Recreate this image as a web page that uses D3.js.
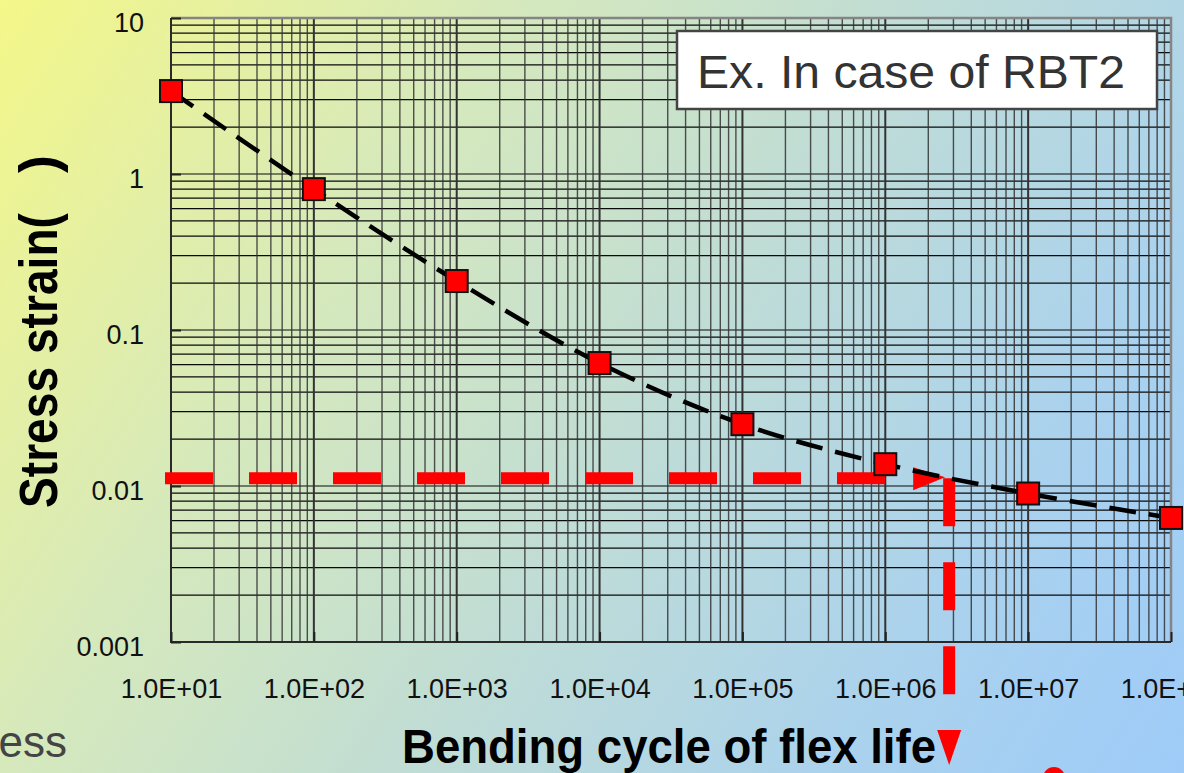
<!DOCTYPE html>
<html>
<head>
<meta charset="utf-8">
<script src="https://cdn.jsdelivr.net/npm/d3@7"></script>
<style>
  html, body { margin: 0; padding: 0; overflow: hidden; }
  svg { display: block; font-family: "Liberation Sans", Arial, sans-serif; }
</style>
</head>
<body>
<div id="chart"></div>
<script>
// bending cycles (x) vs stress strain (y)
var cycles = [1e1, 1e2, 1e3, 1e4, 1e5, 1e6, 1e7, 1e8];
var strain = [3.4, 0.80, 0.206, 0.0614, 0.0249, 0.0138, 0.00895, 0.00624];

var xTickLabels = ["1.0E+01", "1.0E+02", "1.0E+03", "1.0E+04", "1.0E+05", "1.0E+06", "1.0E+07", "1.0E+08"];
var yTickValues = [10, 1, 0.1, 0.01, 0.001];
var yTickLabels = ["10", "1", "0.1", "0.01", "0.001"];

// example reading: strain level -> life
var refStrain = 0.0112,
    refCycles = 2.8e6;

var legendText = "Ex. In case of RBT2";

var width = 1184,
    height = 773;

var margin = { top: 18, right: 13, bottom: 131, left: 171 };

var svg = d3.select("#chart").append("svg")
  .attr("width", width)
  .attr("height", height);

var defs = svg.append("defs");
var grad = defs.append("linearGradient")
  .attr("id", "bg")
  .attr("gradientUnits", "userSpaceOnUse")
  .attr("x1", 0).attr("y1", 0)
  .attr("x2", width).attr("y2", height);
grad.append("stop").attr("offset", 0).attr("stop-color", "#f4f788");
grad.append("stop").attr("offset", 0.3).attr("stop-color", "#d6e9bc");
grad.append("stop").attr("offset", 0.55).attr("stop-color", "#bfdcd6");
grad.append("stop").attr("offset", 0.8).attr("stop-color", "#aad2ee");
grad.append("stop").attr("offset", 1).attr("stop-color", "#9ecbf8");

svg.append("rect")
  .attr("width", width)
  .attr("height", height)
  .attr("fill", "url(#bg)");

var x = d3.scaleLog()
  .domain([1e1, 1e8])
  .range([margin.left, width - margin.right]);

var y = d3.scaleLog()
  .domain([0.001, 10])
  .range([height - margin.bottom, margin.top]);

var x0 = x.range()[0], x1 = x.range()[1],
    y0 = y.range()[0], y1 = y.range()[1];

// grid
var xMinor = [], yMinor = [];
for (var p = 1; p < 8; ++p) {
  for (var k = 2; k < 10; ++k) xMinor.push(k * Math.pow(10, p));
}
for (var q = -3; q < 1; ++q) {
  for (var k = 2; k < 10; ++k) yMinor.push(k * Math.pow(10, q));
}

var grid = svg.append("g").attr("class", "grid");

grid.selectAll(".hline")
  .data(yMinor.concat(yTickValues))
  .enter().append("line")
  .attr("x1", x0).attr("x2", x1)
  .attr("y1", function(d) { return y(d); })
  .attr("y2", function(d) { return y(d); })
  .attr("stroke", "#0a0a0a")
  .attr("stroke-width", 1.2);

grid.selectAll(".vline")
  .data(xMinor)
  .enter().append("line")
  .attr("x1", function(d) { return x(d); })
  .attr("x2", function(d) { return x(d); })
  .attr("y1", y1).attr("y2", y0)
  .attr("stroke", "#333")
  .attr("stroke-opacity", 0.85)
  .attr("stroke-width", 1.4);

grid.selectAll(".vmajor")
  .data(cycles)
  .enter().append("line")
  .attr("x1", function(d) { return x(d); })
  .attr("x2", function(d) { return x(d); })
  .attr("y1", y1).attr("y2", y0)
  .attr("stroke", "#333")
  .attr("stroke-width", 2);

// frame: grey top/right, dark left/bottom
svg.append("path")
  .attr("d", "M" + x0 + "," + y1 + "H" + x1 + "V" + y0)
  .attr("fill", "none")
  .attr("stroke", "#858585")
  .attr("stroke-width", 2.5);

svg.append("path")
  .attr("d", "M" + x0 + "," + y1 + "V" + y0 + "H" + x1)
  .attr("fill", "none")
  .attr("stroke", "#2a2a2a")
  .attr("stroke-width", 2);

// axes
var yAxis = d3.axisLeft(y)
  .tickValues(yTickValues)
  .tickFormat(function(d, i) { return yTickLabels[i]; })
  .tickSizeInner(-10)
  .tickSizeOuter(0)
  .tickPadding(27);

var yg = svg.append("g")
  .attr("transform", "translate(" + x0 + ",0)")
  .call(yAxis);
yg.select(".domain").remove();
yg.selectAll(".tick line").attr("stroke", "#222").attr("stroke-width", 2);
yg.selectAll(".tick text")
  .attr("font-family", "Liberation Sans, Arial, sans-serif")
  .attr("font-size", 27)
  .attr("fill", "#111")
  .attr("dy", "0.5em");

var xAxis = d3.axisBottom(x)
  .tickValues(cycles)
  .tickFormat(function(d, i) { return xTickLabels[i]; })
  .tickSizeInner(-10)
  .tickSizeOuter(0)
  .tickPadding(37);

var xg = svg.append("g")
  .attr("transform", "translate(0," + y0 + ")")
  .call(xAxis);
xg.select(".domain").remove();
xg.selectAll(".tick line").attr("stroke", "#222").attr("stroke-width", 2);
xg.selectAll(".tick text")
  .attr("font-family", "Liberation Sans, Arial, sans-serif")
  .attr("font-size", 27)
  .attr("fill", "#111")
  .attr("dy", "0.71em");

// legend box
var lg = svg.append("g");
lg.append("rect")
  .attr("x", 677).attr("y", 31)
  .attr("width", 480).attr("height", 78)
  .attr("fill", "#fff")
  .attr("stroke", "#444")
  .attr("stroke-width", 2.5);
lg.append("text")
  .attr("x", 697).attr("y", 88)
  .attr("font-size", 47)
  .attr("fill", "#333")
  .attr("textLength", 428)
  .attr("lengthAdjust", "spacingAndGlyphs")
  .text(legendText);

// red reference reading
var ry = y(refStrain),
    rx = x(refCycles);

svg.append("line")
  .attr("x1", x0 - 6).attr("x2", x(1e6))
  .attr("y1", ry).attr("y2", ry)
  .attr("stroke", "#ff0000")
  .attr("stroke-width", 12)
  .attr("stroke-dasharray", "48,36");

svg.append("path")
  .attr("d", "M" + (rx - 36) + "," + (ry - 11) + "L" + (rx - 4) + "," + (ry - 1) + "L" + (rx - 36) + "," + (ry + 12) + "Z")
  .attr("fill", "#ff0000");

svg.append("line")
  .attr("x1", rx).attr("x2", rx)
  .attr("y1", ry).attr("y2", ry + 216)
  .attr("stroke", "#ff0000")
  .attr("stroke-width", 12)
  .attr("stroke-dasharray", "48,36");

svg.append("path")
  .attr("d", "M" + (rx - 12) + ",730L" + (rx + 12) + ",730L" + rx + ",765Z")
  .attr("fill", "#ff0000");

svg.append("circle")
  .attr("cx", 1054).attr("cy", 778)
  .attr("r", 11)
  .attr("fill", "#ff0000");

// data line
var pts = cycles.map(function(c, i) { return { c: c, s: strain[i] }; });

var line = d3.line()
  .x(function(d) { return x(d.c); })
  .y(function(d) { return y(d.s); })
  .curve(d3.curveCatmullRom.alpha(0.5));

svg.append("path")
  .datum(pts)
  .attr("d", line)
  .attr("fill", "none")
  .attr("stroke", "#000")
  .attr("stroke-width", 4.5)
  .attr("stroke-dasharray", "27,13");

svg.append("g")
  .selectAll("rect")
  .data(pts)
  .enter().append("rect")
  .attr("x", function(d) { return x(d.c) - 11; })
  .attr("y", function(d) { return y(d.s) - 11; })
  .attr("width", 22)
  .attr("height", 22)
  .attr("fill", "#ff0000")
  .attr("stroke", "#111")
  .attr("stroke-width", 2);

// axis titles
svg.append("text")
  .attr("transform", "translate(57,508) rotate(-90)")
  .attr("font-size", 54)
  .attr("font-weight", "bold")
  .attr("fill", "#000")
  .attr("textLength", 295)
  .attr("lengthAdjust", "spacingAndGlyphs")
  .text("Stress strain(");

svg.append("text")
  .attr("transform", "translate(57,173) rotate(-90)")
  .attr("font-size", 54)
  .attr("font-weight", "bold")
  .attr("fill", "#000")
  .text(")");

svg.append("text")
  .attr("x", 402).attr("y", 763)
  .attr("font-size", 49)
  .attr("font-weight", "bold")
  .attr("fill", "#000")
  .attr("textLength", 534)
  .attr("lengthAdjust", "spacingAndGlyphs")
  .text("Bending cycle of flex life");

svg.append("text")
  .attr("x", 67).attr("y", 757)
  .attr("text-anchor", "end")
  .attr("font-size", 44)
  .attr("fill", "#444")
  .text("ess");
</script>
</body>
</html>
